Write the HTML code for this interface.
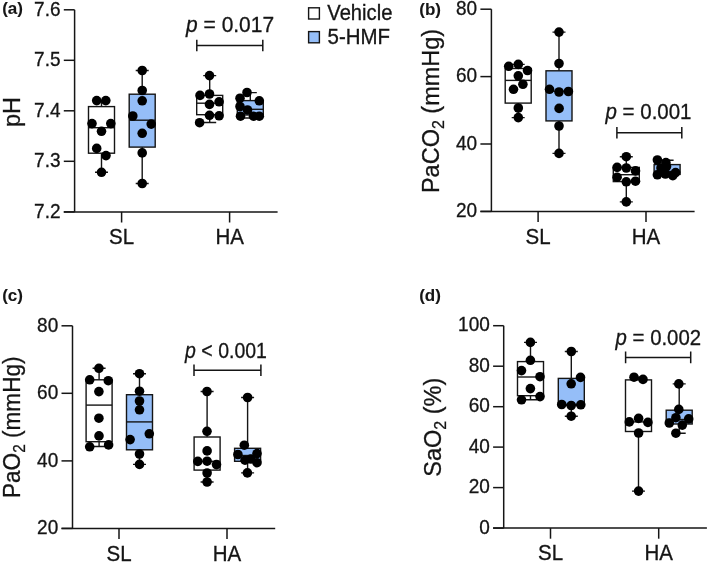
<!DOCTYPE html>
<html><head><meta charset="utf-8"><style>
html,body{margin:0;padding:0;background:#fff;}
svg{display:block;will-change:transform;}
text{font-family:"Liberation Sans", sans-serif;fill:#151515;stroke:#151515;stroke-width:0.3px;}
.ax{stroke:#151515;stroke-width:1.5;fill:none;}
.bx{stroke:#151515;stroke-width:1.4;}
path.bx{fill:none;}
circle{fill:#000;}
.tk{font-size:19px;text-anchor:end;}
.xl{font-size:20.5px;text-anchor:middle;}
.yl{font-size:23.5px;text-anchor:middle;}
.pv{font-size:21px;}
.pl{font-size:17px;font-weight:bold;stroke-width:0.1px;}
.lg{font-size:20.2px;}
</style></head><body>
<svg width="709" height="565" viewBox="0 0 709 565">
<rect width="709" height="565" fill="#fff"/>
<path d="M74.6 9.8V211.9" class="ax"/>
<path d="M63.8 211.9H277.6" class="ax"/>
<path d="M63.8 9.8H74.6" class="ax"/>
<text transform="translate(60.5 15.5) scale(1 1.04)" class="tk">7.6</text>
<path d="M63.8 60.3H74.6" class="ax"/>
<text transform="translate(60.5 66) scale(1 1.04)" class="tk">7.5</text>
<path d="M63.8 110.8H74.6" class="ax"/>
<text transform="translate(60.5 116.5) scale(1 1.04)" class="tk">7.4</text>
<path d="M63.8 161.3H74.6" class="ax"/>
<text transform="translate(60.5 167) scale(1 1.04)" class="tk">7.3</text>
<path d="M63.8 211.9H74.6" class="ax"/>
<text transform="translate(60.5 217.6) scale(1 1.04)" class="tk">7.2</text>
<path d="M121.6 211.9V222.5" class="ax"/>
<text transform="translate(121.6 244.1) scale(1 1.06)" class="xl">SL</text>
<path d="M229.6 211.9V222.5" class="ax"/>
<text transform="translate(229.6 244.1) scale(1 1.06)" class="xl">HA</text>
<path d="M101.5 100.6V106.6M101.5 153.2V172.3M95 100.6H108M95 172.3H108" class="bx"/>
<rect x="88.5" y="106.6" width="26" height="46.6" fill="#fff" class="bx"/>
<path d="M88.5 127.7H114.5" class="bx"/>
<circle cx="96.7" cy="100.6" r="4.8"/>
<circle cx="105.8" cy="100.6" r="4.8"/>
<circle cx="92" cy="123.6" r="4.8"/>
<circle cx="110.8" cy="123.6" r="4.8"/>
<circle cx="101.5" cy="131.3" r="4.8"/>
<circle cx="96.7" cy="148.4" r="4.8"/>
<circle cx="106" cy="155.6" r="4.8"/>
<circle cx="101.5" cy="172.3" r="4.8"/>
<path d="M142.2 70.5V94.2M142.2 147.1V183.5M135.7 70.5H148.7M135.7 183.5H148.7" class="bx"/>
<rect x="129.2" y="94.2" width="26" height="52.9" fill="#95bef8" class="bx"/>
<path d="M129.2 120.2H155.2" class="bx"/>
<circle cx="142.2" cy="70.5" r="4.8"/>
<circle cx="142.2" cy="90.5" r="4.8"/>
<circle cx="142.2" cy="100.8" r="4.8"/>
<circle cx="132.8" cy="116" r="4.8"/>
<circle cx="151.2" cy="124.1" r="4.8"/>
<circle cx="142.2" cy="133.3" r="4.8"/>
<circle cx="142.2" cy="152.9" r="4.8"/>
<circle cx="142.2" cy="183.5" r="4.8"/>
<path d="M209.7 75.6V95.4M209.7 114.7V122.5M203.2 75.6H216.2M203.2 122.5H216.2" class="bx"/>
<rect x="196.7" y="95.4" width="26" height="19.3" fill="#fff" class="bx"/>
<path d="M196.7 103.2H222.7" class="bx"/>
<circle cx="209.5" cy="75.6" r="4.8"/>
<circle cx="200" cy="95.4" r="4.8"/>
<circle cx="209.5" cy="94" r="4.8"/>
<circle cx="219.1" cy="101.8" r="4.8"/>
<circle cx="209.5" cy="104.4" r="4.8"/>
<circle cx="209.5" cy="115.3" r="4.8"/>
<circle cx="219.1" cy="115.8" r="4.8"/>
<circle cx="199.6" cy="122.7" r="4.8"/>
<path d="M250.3 92.6V100.6M250.3 115V118M243.8 92.6H256.8M243.8 118H256.8" class="bx"/>
<rect x="237.3" y="100.6" width="26" height="14.4" fill="#95bef8" class="bx"/>
<path d="M237.3 109.3H263.3" class="bx"/>
<circle cx="247" cy="92.5" r="4.8"/>
<circle cx="240" cy="98.2" r="4.8"/>
<circle cx="259.3" cy="100.8" r="4.8"/>
<circle cx="240" cy="106.5" r="4.8"/>
<circle cx="247.5" cy="110" r="4.8"/>
<circle cx="240.5" cy="116.2" r="4.8"/>
<circle cx="253.5" cy="116.2" r="4.8"/>
<circle cx="259.3" cy="116.2" r="4.8"/>
<path d="M196.8 45.5H262.8M196.8 39.7V51.3M262.8 39.7V51.3" class="ax"/>
<text transform="translate(186.1 31.7) scale(1 1.08)" class="pv" textLength="88" lengthAdjust="spacingAndGlyphs"><tspan font-style="italic">p</tspan> = 0.017</text>
<text transform="translate(20.3 112.1) rotate(-90)" class="yl" font-size="22.2">pH</text>
<text transform="translate(2.2 14.3) scale(1 1.0)" class="pl">(a)</text>
<path d="M491.4 9.2V211.4" class="ax"/>
<path d="M480.4 211.4H694.6" class="ax"/>
<path d="M480.4 9.2H491.4" class="ax"/>
<text transform="translate(477.1 14.9) scale(1 1.04)" class="tk">80</text>
<path d="M480.4 76.6H491.4" class="ax"/>
<text transform="translate(477.1 82.3) scale(1 1.04)" class="tk">60</text>
<path d="M480.4 144H491.4" class="ax"/>
<text transform="translate(477.1 149.7) scale(1 1.04)" class="tk">40</text>
<path d="M480.4 211.4H491.4" class="ax"/>
<text transform="translate(477.1 217.1) scale(1 1.04)" class="tk">20</text>
<path d="M538.1 211.4V222" class="ax"/>
<text transform="translate(538.1 243.6) scale(1 1.06)" class="xl">SL</text>
<path d="M646 211.4V222" class="ax"/>
<text transform="translate(646 243.6) scale(1 1.06)" class="xl">HA</text>
<path d="M518.2 64.4V68.5M518.2 103.1V117.6M511.7 64.4H524.7M511.7 117.6H524.7" class="bx"/>
<rect x="505.2" y="68.5" width="26" height="34.6" fill="#fff" class="bx"/>
<path d="M505.2 80.4H531.2" class="bx"/>
<circle cx="508.7" cy="66.3" r="4.8"/>
<circle cx="518.3" cy="64.4" r="4.8"/>
<circle cx="527.5" cy="70.5" r="4.8"/>
<circle cx="518.3" cy="75.8" r="4.8"/>
<circle cx="522.9" cy="84.3" r="4.8"/>
<circle cx="513.5" cy="89.3" r="4.8"/>
<circle cx="518.3" cy="108" r="4.8"/>
<circle cx="518.3" cy="117.6" r="4.8"/>
<path d="M559 32.1V70.8M559 120.9V153.4M552.5 32.1H565.5M552.5 153.4H565.5" class="bx"/>
<rect x="546" y="70.8" width="26" height="50.1" fill="#95bef8" class="bx"/>
<path d="M546 91.2H572" class="bx"/>
<circle cx="559" cy="32.1" r="4.8"/>
<circle cx="559" cy="63.5" r="4.8"/>
<circle cx="549.5" cy="89.3" r="4.8"/>
<circle cx="559" cy="92" r="4.8"/>
<circle cx="568.4" cy="91.5" r="4.8"/>
<circle cx="559.1" cy="108.4" r="4.8"/>
<circle cx="559" cy="126" r="4.8"/>
<circle cx="559" cy="153.4" r="4.8"/>
<path d="M626.3 156.7V167.4M626.3 181.6V201.9M619.8 156.7H632.8M619.8 201.9H632.8" class="bx"/>
<rect x="613.3" y="167.4" width="26" height="14.2" fill="#fff" class="bx"/>
<path d="M613.3 174.7H639.3" class="bx"/>
<circle cx="626.3" cy="156.7" r="4.8"/>
<circle cx="617.1" cy="167.4" r="4.8"/>
<circle cx="626.3" cy="168" r="4.8"/>
<circle cx="635.5" cy="170.9" r="4.8"/>
<circle cx="617.1" cy="177.2" r="4.8"/>
<circle cx="626.3" cy="181.8" r="4.8"/>
<circle cx="635.5" cy="181.2" r="4.8"/>
<circle cx="626.3" cy="201.9" r="4.8"/>
<path d="M667.1 160.2V164.6M667.1 174.4V175.8M660.6 160.2H673.6M660.6 175.8H673.6" class="bx"/>
<rect x="654.1" y="164.6" width="26" height="9.8" fill="#95bef8" class="bx"/>
<path d="M654.1 171.4H680.1" class="bx"/>
<circle cx="657.4" cy="160" r="4.8"/>
<circle cx="665.9" cy="162.6" r="4.8"/>
<circle cx="661" cy="168" r="4.8"/>
<circle cx="666.5" cy="166.5" r="4.8"/>
<circle cx="657.4" cy="174.8" r="4.8"/>
<circle cx="665.4" cy="174" r="4.8"/>
<circle cx="672.8" cy="175.6" r="4.8"/>
<circle cx="675.6" cy="172.6" r="4.8"/>
<path d="M616.9 132.8H681.8M616.9 127V138.6M681.8 127V138.6" class="ax"/>
<text transform="translate(605.5 119) scale(1 1.08)" class="pv" textLength="86" lengthAdjust="spacingAndGlyphs"><tspan font-style="italic">p</tspan> = 0.001</text>
<text transform="translate(438.9 110.95) rotate(-90)" class="yl" font-size="22.8" textLength="164.3" lengthAdjust="spacingAndGlyphs">PaCO<tspan font-size="16.0" dy="5">2</tspan><tspan dy="-5">&#160;(mmHg)</tspan></text>
<text transform="translate(419.3 14.6) scale(1 1.0)" class="pl">(b)</text>
<path d="M72.5 325.8V528.4" class="ax"/>
<path d="M61.5 528.4H275.2" class="ax"/>
<path d="M61.5 325.8H72.5" class="ax"/>
<text transform="translate(58.2 331.5) scale(1 1.04)" class="tk">80</text>
<path d="M61.5 393.3H72.5" class="ax"/>
<text transform="translate(58.2 399) scale(1 1.04)" class="tk">60</text>
<path d="M61.5 460.9H72.5" class="ax"/>
<text transform="translate(58.2 466.6) scale(1 1.04)" class="tk">40</text>
<path d="M61.5 528.4H72.5" class="ax"/>
<text transform="translate(58.2 534.1) scale(1 1.04)" class="tk">20</text>
<path d="M119 528.4V539" class="ax"/>
<text transform="translate(119 560.6) scale(1 1.06)" class="xl">SL</text>
<path d="M227 528.4V539" class="ax"/>
<text transform="translate(227 560.6) scale(1 1.06)" class="xl">HA</text>
<path d="M99.1 368.3V379.8M99.1 441.7V446.5M92.6 368.3H105.6M92.6 446.5H105.6" class="bx"/>
<rect x="86.1" y="379.8" width="26" height="61.9" fill="#fff" class="bx"/>
<path d="M86.1 405.1H112.1" class="bx"/>
<circle cx="98.9" cy="368.3" r="4.8"/>
<circle cx="89.7" cy="379.8" r="4.8"/>
<circle cx="108.3" cy="380.7" r="4.8"/>
<circle cx="98.9" cy="391.6" r="4.8"/>
<circle cx="98.9" cy="418.2" r="4.8"/>
<circle cx="99" cy="435.9" r="4.8"/>
<circle cx="89.7" cy="446.8" r="4.8"/>
<circle cx="108.6" cy="444.9" r="4.8"/>
<path d="M139.5 373.7V394.7M139.5 449.8V464.4M133 373.7H146M133 464.4H146" class="bx"/>
<rect x="126.5" y="394.7" width="26" height="55.1" fill="#95bef8" class="bx"/>
<path d="M126.5 421.9H152.5" class="bx"/>
<circle cx="139.5" cy="373.7" r="4.8"/>
<circle cx="139.5" cy="391.2" r="4.8"/>
<circle cx="139.5" cy="401" r="4.8"/>
<circle cx="139.5" cy="409.8" r="4.8"/>
<circle cx="149.3" cy="433.8" r="4.8"/>
<circle cx="130.1" cy="439.6" r="4.8"/>
<circle cx="139.5" cy="454" r="4.8"/>
<circle cx="139.5" cy="464.4" r="4.8"/>
<path d="M207.1 391.5V437M207.1 470.1V482M200.6 391.5H213.6M200.6 482H213.6" class="bx"/>
<rect x="194.1" y="437" width="26" height="33.1" fill="#fff" class="bx"/>
<path d="M194.1 461.3H220.1" class="bx"/>
<circle cx="207" cy="391.5" r="4.8"/>
<circle cx="207" cy="431.3" r="4.8"/>
<circle cx="207.1" cy="450.9" r="4.8"/>
<circle cx="197.8" cy="461.4" r="4.8"/>
<circle cx="207.1" cy="461.2" r="4.8"/>
<circle cx="216.5" cy="464.6" r="4.8"/>
<circle cx="207.1" cy="473" r="4.8"/>
<circle cx="207.1" cy="482" r="4.8"/>
<path d="M247.6 397.5V448.3M247.6 461.3V472.9M241.1 397.5H254.1M241.1 472.9H254.1" class="bx"/>
<rect x="234.6" y="448.3" width="26" height="13" fill="#95bef8" class="bx"/>
<path d="M234.6 455.5H260.6" class="bx"/>
<circle cx="247.6" cy="397.5" r="4.8"/>
<circle cx="244.3" cy="445.2" r="4.8"/>
<circle cx="237.9" cy="454.5" r="4.8"/>
<circle cx="257" cy="453.6" r="4.8"/>
<circle cx="245" cy="460.2" r="4.8"/>
<circle cx="250.9" cy="459" r="4.8"/>
<circle cx="257" cy="462.7" r="4.8"/>
<circle cx="247.4" cy="472.9" r="4.8"/>
<path d="M194 370.2H260.9M194 364.4V376M260.9 364.4V376" class="ax"/>
<text transform="translate(185.1 358.1) scale(1 1.08)" class="pv" textLength="81.8" lengthAdjust="spacingAndGlyphs"><tspan font-style="italic">p</tspan> < 0.001</text>
<text transform="translate(20.4 427.25) rotate(-90)" class="yl" font-size="22.8" textLength="141.5" lengthAdjust="spacingAndGlyphs">PaO<tspan font-size="16.0" dy="5">2</tspan><tspan dy="-5">&#160;(mmHg)</tspan></text>
<text transform="translate(2.2 301) scale(1 1.0)" class="pl">(c)</text>
<path d="M503.7 325.7V528.1" class="ax"/>
<path d="M493.1 528.1H706.9" class="ax"/>
<path d="M493.1 325.7H503.7" class="ax"/>
<text transform="translate(489.8 331.4) scale(1 1.04)" class="tk">100</text>
<path d="M493.1 366.2H503.7" class="ax"/>
<text transform="translate(489.8 371.9) scale(1 1.04)" class="tk">80</text>
<path d="M493.1 406.7H503.7" class="ax"/>
<text transform="translate(489.8 412.4) scale(1 1.04)" class="tk">60</text>
<path d="M493.1 447.1H503.7" class="ax"/>
<text transform="translate(489.8 452.8) scale(1 1.04)" class="tk">40</text>
<path d="M493.1 487.6H503.7" class="ax"/>
<text transform="translate(489.8 493.3) scale(1 1.04)" class="tk">20</text>
<path d="M493.1 528.1H503.7" class="ax"/>
<text transform="translate(489.8 533.8) scale(1 1.04)" class="tk">0</text>
<path d="M550.5 528.1V538.7" class="ax"/>
<text transform="translate(550.5 560.3) scale(1 1.06)" class="xl">SL</text>
<path d="M658.7 528.1V538.7" class="ax"/>
<text transform="translate(658.7 560.3) scale(1 1.06)" class="xl">HA</text>
<path d="M530.5 342.4V361.6M530.5 395.7V399.8M524 342.4H537M524 399.8H537" class="bx"/>
<rect x="517.5" y="361.6" width="26" height="34.1" fill="#fff" class="bx"/>
<path d="M517.5 377H543.5" class="bx"/>
<circle cx="530.4" cy="342.4" r="4.8"/>
<circle cx="530.4" cy="360.3" r="4.8"/>
<circle cx="521.5" cy="370.6" r="4.8"/>
<circle cx="540" cy="376.7" r="4.8"/>
<circle cx="530.4" cy="388.6" r="4.8"/>
<circle cx="540" cy="396.6" r="4.8"/>
<circle cx="521.5" cy="399.8" r="4.8"/>
<path d="M571.3 351.5V378.4M571.3 405.5V416.2M564.8 351.5H577.8M564.8 416.2H577.8" class="bx"/>
<rect x="558.3" y="378.4" width="26" height="27.1" fill="#95bef8" class="bx"/>
<path d="M558.3 404.5H584.3" class="bx"/>
<circle cx="571.3" cy="351.5" r="4.8"/>
<circle cx="580.5" cy="377.4" r="4.8"/>
<circle cx="571.2" cy="383.8" r="4.8"/>
<circle cx="561.7" cy="404.5" r="4.8"/>
<circle cx="571.2" cy="405.5" r="4.8"/>
<circle cx="580.8" cy="404.8" r="4.8"/>
<circle cx="571.2" cy="416.2" r="4.8"/>
<path d="M638.5 377.2V379.9M638.5 431.5V491.1M632 377.2H645M632 491.1H645" class="bx"/>
<rect x="625.5" y="379.9" width="26" height="51.6" fill="#fff" class="bx"/>
<path d="M625.5 421.9H651.5" class="bx"/>
<circle cx="634" cy="377.2" r="4.8"/>
<circle cx="643" cy="379.4" r="4.8"/>
<circle cx="629.3" cy="421.9" r="4.8"/>
<circle cx="638.6" cy="418.4" r="4.8"/>
<circle cx="647.9" cy="422.4" r="4.8"/>
<circle cx="638.6" cy="433" r="4.8"/>
<circle cx="638.6" cy="491.1" r="4.8"/>
<path d="M679.2 383.9V410.2M679.2 424V433.2M672.7 383.9H685.7M672.7 433.2H685.7" class="bx"/>
<rect x="666.2" y="410.2" width="26" height="13.8" fill="#95bef8" class="bx"/>
<path d="M666.2 419.5H692.2" class="bx"/>
<circle cx="678.8" cy="383.9" r="4.8"/>
<circle cx="678.8" cy="409.4" r="4.8"/>
<circle cx="675.9" cy="417.7" r="4.8"/>
<circle cx="688.7" cy="418.9" r="4.8"/>
<circle cx="669.3" cy="423" r="4.8"/>
<circle cx="682.3" cy="425.1" r="4.8"/>
<circle cx="675.9" cy="433.2" r="4.8"/>
<path d="M625.6 357.4H690.7M625.6 351.6V363.2M690.7 351.6V363.2" class="ax"/>
<text transform="translate(615.6 345) scale(1 1.08)" class="pv" textLength="85.5" lengthAdjust="spacingAndGlyphs"><tspan font-style="italic">p</tspan> = 0.002</text>
<text transform="translate(440.6 427.25) rotate(-90)" class="yl" font-size="22.8" textLength="99" lengthAdjust="spacingAndGlyphs">SaO<tspan font-size="16.0" dy="5">2</tspan><tspan dy="-5">&#160;(%)</tspan></text>
<text transform="translate(419.2 300.8) scale(1 1.0)" class="pl">(d)</text>
<rect x="308.6" y="7.8" width="10.8" height="11.2" fill="#fff" class="bx"/>
<rect x="308.6" y="31.6" width="10.8" height="11.2" fill="#95bef8" class="bx"/>
<text transform="translate(327.3 20.3) scale(1 1.06)" class="lg">Vehicle</text>
<text transform="translate(327.6 43.9) scale(1 1.06)" class="lg" textLength="62.5" lengthAdjust="spacingAndGlyphs">5-HMF</text>
</svg>
</body></html>
